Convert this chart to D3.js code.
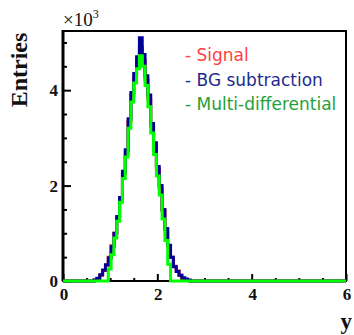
<!DOCTYPE html>
<html>
<head>
<meta charset="utf-8">
<script src="https://cdn.jsdelivr.net/npm/d3@7"></script>
<style>
  body { margin: 0; background: #fff; }
  svg { display: block; }
</style>
</head>
<body>
<svg id="chart" width="354" height="335"></svg>
<script>
// lower bin edges (y), bin width 0.06
var binWidth = 0.06;
var xLow = [0.66, 0.72, 0.78, 0.84, 0.90, 0.96, 1.02, 1.08, 1.14, 1.20, 1.26, 1.32,
	1.38, 1.44, 1.50, 1.56, 1.62, 1.68, 1.74, 1.80, 1.86, 1.92, 1.98, 2.04,
	2.10, 2.16, 2.22, 2.28, 2.34, 2.40, 2.46, 2.52, 2.58, 2.64];

// entries in units of 10^3
var signal = [0.02, 0.05, 0.12, 0.22, 0.33, 0.50, 0.74, 1.00, 1.33, 1.72, 2.25, 2.70,
	3.35, 3.90, 4.28, 4.60, 4.90, 4.62, 4.22, 3.82, 3.25, 2.85, 2.35, 1.95,
	1.48, 1.08, 0.74, 0.50, 0.31, 0.21, 0.12, 0.06, 0.03, 0.01];
var bgSub = [0.02, 0.06, 0.13, 0.23, 0.34, 0.48, 0.72, 1.00, 1.35, 1.75, 2.30, 2.75,
	3.40, 3.95, 4.35, 4.70, 5.10, 4.75, 4.30, 3.90, 3.30, 2.90, 2.40, 2.00,
	1.50, 1.10, 0.75, 0.50, 0.30, 0.20, 0.12, 0.07, 0.04, 0.02];
var multiDiff = [0, 0, 0, 0, 0, 0.25, 0.55, 0.90, 1.25, 1.65, 2.15, 2.60,
	3.20, 3.75, 4.15, 4.45, 4.72, 4.50, 4.10, 3.65, 3.10, 2.65, 2.20, 1.80,
	1.30, 0.85, 0.35, 0, 0, 0, 0, 0, 0, 0];

var xTicks = [0, 2, 4, 6];
var yTicks = [0, 2, 4];
var legendNames = ["Signal", "BG subtraction", "Multi-differential"];

var svg = d3.select("#chart");
var frameL = 63, frameR = 346, frameT = 31, frameB = 281;

var x = d3.scaleLinear().domain([0, 6]).range([frameL, frameR]);
var y = d3.scaleLinear().domain([0, 5.24]).range([frameB, frameT]);

// frame
svg.append("rect")
	.attr("x", frameL).attr("y", frameT)
	.attr("width", frameR - frameL).attr("height", frameB - frameT)
	.attr("fill", "none").attr("stroke", "#000").attr("stroke-width", 2);

// axes with ticks pointing inside
var xAxis = d3.axisTop(x)
	.tickValues(d3.range(0, 6.01, 0.5))
	.tickSize(0).tickFormat("");
var gx = svg.append("g").attr("transform", "translate(0," + frameB + ")").call(xAxis);
gx.select(".domain").remove();
gx.selectAll(".tick line").remove();
gx.selectAll(".tick").append("line")
	.attr("y2", function (d) { return d % 2 === 0 ? -7 : -3; })
	.attr("stroke", "#000").attr("stroke-width", 2);

var yAxis = d3.axisRight(y)
	.tickValues(d3.range(0, 5.01, 0.5))
	.tickSize(0).tickFormat("");
var gy = svg.append("g").attr("transform", "translate(" + frameL + ",0)").call(yAxis);
gy.select(".domain").remove();
gy.selectAll(".tick line").remove();
gy.selectAll(".tick").append("line")
	.attr("x2", function (d) { return d % 2 === 0 ? 8 : 4; })
	.attr("stroke", "#000").attr("stroke-width", 2);

svg.append("line")
	.attr("x1", frameL).attr("x2", frameL).attr("y1", frameT - 1).attr("y2", frameB)
	.attr("stroke", "#000").attr("stroke-width", 3);

// tick labels
svg.selectAll("text.xl").data(xTicks).enter().append("text")
	.attr("class", "xl")
	.attr("x", function (d) { return x(d) + 1; })
	.attr("y", 300)
	.attr("text-anchor", "middle")
	.attr("font-family", "Liberation Serif").attr("font-weight", "bold").attr("font-size", 17)
	.attr("fill", "#111")
	.text(function (d) { return d; });

svg.selectAll("text.yl").data(yTicks).enter().append("text")
	.attr("class", "yl")
	.attr("x", frameL - 5)
	.attr("y", function (d) { return y(d) + 6; })
	.attr("text-anchor", "end")
	.attr("font-family", "Liberation Serif").attr("font-weight", "bold").attr("font-size", 17)
	.attr("fill", "#111")
	.text(function (d) { return d; });

// axis titles
svg.append("text")
	.attr("transform", "translate(27,70) rotate(-90)")
	.attr("text-anchor", "middle")
	.attr("font-family", "Liberation Serif").attr("font-weight", "bold").attr("font-size", 24)
	.attr("fill", "#111")
	.text("Entries");

svg.append("text")
	.attr("x", 352).attr("y", 329)
	.attr("text-anchor", "end")
	.attr("font-family", "Liberation Serif").attr("font-weight", "bold").attr("font-size", 23)
	.attr("fill", "#111")
	.text("y");

var mult = svg.append("text")
	.attr("x", 63).attr("y", 26)
	.attr("font-family", "Liberation Serif").attr("font-size", 19)
	.attr("fill", "#111");
mult.append("tspan").text("\u00d710");
mult.append("tspan").attr("dy", -8).attr("font-size", 12).text("3");

// histograms as step outlines
function steps(vals) {
	var pts = [[0, 0]];
	vals.forEach(function (v, i) { pts.push([xLow[i], v]); });
	pts.push([xLow[xLow.length - 1] + binWidth, 0]);
	pts.push([6, 0]);
	return pts;
}
var line = d3.line()
	.x(function (d) { return x(d[0]); })
	.y(function (d) { return y(d[1]); })
	.curve(d3.curveStepAfter);

var series = [
	{ vals: signal, color: "#ff0000" },
	{ vals: bgSub, color: "#000099" },
	{ vals: multiDiff, color: "#00ff00" }
];
series.forEach(function (s) {
	svg.append("path")
		.attr("d", line(steps(s.vals)))
		.attr("fill", "none")
		.attr("stroke", s.color)
		.attr("stroke-width", 3);
});

// legend
var legendColors = ["#ff4040", "#1c2b8c", "#24a03a"];
svg.selectAll("text.leg").data(legendNames).enter().append("text")
	.attr("class", "leg")
	.attr("x", 185)
	.attr("y", function (d, i) { return 61 + i * 24.5; })
	.attr("font-family", "DejaVu Sans").attr("font-size", 17)
	.attr("fill", function (d, i) { return legendColors[i]; })
	.text(function (d) { return "- " + d; });
</script>
</body>
</html>
